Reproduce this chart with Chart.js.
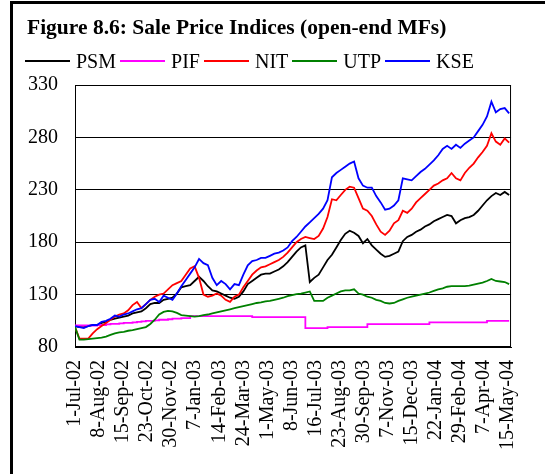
<!DOCTYPE html>
<html lang="en">
<head>
  <meta charset="UTF-8">
  <title>Sale Price Indices (open-end MFs)</title>
  <script src="https://cdn.jsdelivr.net/npm/chart.js"></script>
  <style>
    html, body {
      margin: 0;
      padding: 0;
      background: #fff;
      overflow: hidden;
    }
    body {
      width: 545px;
      height: 474px;
      position: relative;
      font-family: 'Liberation Serif', 'Times New Roman', serif;
      color: #000;
    }
    .frame {
      position: absolute;
      left: 10px;
      top: 1px;
      width: 600px;
      height: 600px;
      border: 3px solid #000;
    }
    h1 {
      position: absolute;
      left: 27px;
      top: 17px;
      margin: 0;
      font-size: 21.5px;
      line-height: 1;
      font-weight: bold;
      white-space: nowrap;
    }
    .legend {
      position: absolute;
      left: 25px;
      top: 51px;
      display: flex;
      align-items: center;
      font-size: 20px;
      line-height: 1;
      white-space: nowrap;
    }
    .legend .line {
      display: inline-block;
      width: 45px;
      height: 2px;
      margin-right: 6px;
    }
    .legend .txt {
      margin-right: 4px;
    }
    canvas {
      position: absolute;
      left: 0;
      top: 0;
    }
  </style>
</head>
<body>
  <div class="frame"></div>
  <canvas id="chart" width="545" height="474"></canvas>
  <h1>Figure 8.6: Sale Price Indices (open-end MFs)</h1>
  <div class="legend" id="legend"></div>
  <script>
    // x axis: days since 1-Jul-02, one value per week
    const STEP_DAYS = 7;
    const TICK_STEP = 38;
    const X_MAX = 689;
    const TICK_LABELS = ['1-Jul-02', '8-Aug-02', '15-Sep-02', '23-Oct-02', '30-Nov-02', '7-Jan-03',
      '14-Feb-03', '24-Mar-03', '1-May-03', '8-Jun-03', '16-Jul-03', '23-Aug-03', '30-Sep-03',
      '7-Nov-03', '15-Dec-03', '22-Jan-04', '29-Feb-04', '7-Apr-04', '15-May-04'];

    const psm = [100, 99, 99, 100, 101, 101, 103, 104, 106, 107, 108, 109, 110, 112, 113, 114, 117, 121, 122, 122,
      125, 126, 127, 131, 137, 138, 139, 143, 147, 143, 138, 134, 133, 131, 129, 127, 126, 128, 133, 140,
      143, 146, 149, 150, 150, 152, 154, 157, 161, 166, 171, 175, 177, 142, 146, 149, 156, 163, 168, 175,
      182, 188, 191, 189, 186, 179, 183, 177, 173, 169, 166, 167, 169, 171, 181, 185, 187, 190, 192, 195,
      197, 200, 202, 204, 206, 205, 198, 201, 203, 204, 206, 210, 215, 220, 224, 227, 225, 228, 225];

    const pif = [100.5, 100.5, 100.5, 100.5, 100.5, 100.5, 101, 101, 101.5, 102, 102, 102.5, 103, 103, 103.5, 104, 104.5, 105, 105, 105.5,
      106, 106, 106.5, 107, 107, 107.5, 107.5, 109.5, 109.5, 109.5, 109.5, 109.5, 109.5, 109.5, 109.5, 109.5, 109.5, 109.5, 109.5, 109.5,
      109.5, 108.5, 108.5, 108.5, 108.5, 108.5, 108.5, 108.5, 108.5, 108.5, 108.5, 108.5, 108.5, 98, 98, 98, 98, 98, 99, 99,
      99, 99, 99, 99, 99, 99, 99, 101.8, 101.8, 101.8, 101.8, 101.8, 101.8, 101.8, 101.8, 101.8, 101.8, 101.8, 101.8, 101.8,
      101.8, 103.5, 103.5, 103.5, 103.5, 103.5, 103.5, 103.5, 103.5, 103.5, 103.5, 103.5, 103.5, 103.5, 105, 105, 105, 105, 105];

    const nit = [99, 88, 88, 88, 93, 97, 100, 103, 106, 109, 111, 112, 115, 120, 123, 117, 121, 125, 128, 130,
      131, 135, 139, 141, 143, 149, 155, 157, 146, 130, 128, 129, 131, 129, 125, 123, 128, 130, 137, 143,
      149, 153, 156, 157, 159, 161, 163, 166, 170, 175, 180, 183, 185, 184, 183, 186, 193, 204, 221, 220,
      225, 230, 233, 232, 222, 212, 210, 205, 197, 190, 187, 191, 198, 201, 210, 208, 212, 218, 222, 226,
      230, 234, 236, 239, 241, 246, 241, 239, 246, 251, 255, 261, 266, 272, 284, 276, 273, 279, 275];

    const utp = [99, 87, 87, 87.5, 88, 88.5, 89, 90, 91.5, 93, 94, 94.5, 95.5, 96, 97, 98, 99, 102, 106, 111,
      113.5, 114.5, 114, 112.5, 110.5, 110, 109.5, 109, 109.5, 110.5, 111, 112, 113, 114, 115, 116, 117, 118, 119, 120,
      121, 122, 122.5, 123.5, 124, 125, 126, 127, 128.5, 129.5, 130.5, 131, 132, 133, 124, 124, 124, 127, 129, 131,
      133, 134, 134, 135, 131, 130, 128, 127, 125, 124, 122, 121.5, 122, 124, 125.5, 127, 128, 129, 130, 131,
      132, 133.5, 135, 136, 137.5, 138, 138, 138, 138, 138.5, 139.5, 140.5, 141.5, 143, 145, 143, 142.5, 142, 140];

    const kse = [100, 99, 98, 100, 101, 101, 104, 105, 107, 110, 109, 111, 112, 114, 116, 117, 121, 125, 126, 123,
      129, 127, 125, 131, 138, 144, 150, 156, 164, 160, 158, 146, 139, 143, 140, 135, 140, 139, 149, 158,
      162, 163, 165, 165, 167, 169, 170, 172, 175, 181, 185, 190, 195, 199, 203, 207, 212, 220, 242, 246,
      249, 252, 255, 257, 241, 234, 232, 232, 224, 218, 211, 212, 215, 220, 241, 240, 239, 243, 247, 250,
      254, 258, 263, 269, 272, 269, 273, 270, 274, 277, 280, 286, 292, 300, 314, 304, 307, 308, 303];

    const SERIES = [
      { name: 'PSM', values: psm, color: '#000000' },
      { name: 'PIF', values: pif, color: '#ff00ff', stepped: 'after' },
      { name: 'NIT', values: nit, color: '#ff0000' },
      { name: 'UTP', values: utp, color: '#008000' },
      { name: 'KSE', values: kse, color: '#0000ff' }
    ];

    // legend
    const legend = document.getElementById('legend');
    SERIES.forEach(s => {
      legend.insertAdjacentHTML('beforeend',
        `<span class="line" style="background:${s.color}"></span><span class="txt">${s.name}</span>`);
    });

    // box round the plot area
    const plotFrame = {
      id: 'plotFrame',
      beforeDatasetsDraw(chart) {
        const { ctx, chartArea: a } = chart;
        ctx.save();
        ctx.strokeStyle = '#000';
        ctx.lineWidth = 1;
        ctx.strokeRect(a.left + 0.5, a.top + 0.5, a.right - a.left - 1, a.bottom - a.top - 1);
        ctx.restore();
      }
    };

    const font = { family: "'Liberation Serif', 'Times New Roman', serif", size: 20 };

    new Chart(document.getElementById('chart'), {
      type: 'line',
      data: {
        datasets: SERIES.map((s, k) => ({
          label: s.name,
          data: s.values.map((v, i) => ({ x: i * STEP_DAYS, y: v })),
          borderColor: s.color,
          backgroundColor: s.color,
          borderWidth: 1.8,
          pointRadius: 0,
          tension: 0,
          stepped: s.stepped || false,
          order: SERIES.length - k
        }))
      },
      options: {
        responsive: false,
        animation: false,
        devicePixelRatio: 1,
        layout: { padding: { left: 15, top: 85, right: 18, bottom: 5 } },
        plugins: {
          legend: { display: false },
          tooltip: { enabled: false }
        },
        scales: {
          x: {
            type: 'linear',
            min: 0,
            max: X_MAX,
            afterBuildTicks: axis => {
              axis.ticks = TICK_LABELS.map((_, i) => ({ value: i * TICK_STEP }));
            },
            afterFit: axis => { axis.height = 122; },
            grid: { display: false, drawTicks: false },
            border: { color: '#000', width: 1 },
            ticks: {
              autoSkip: false,
              minRotation: 90,
              maxRotation: 90,
              padding: 13,
              color: '#000',
              font: font,
              callback: (value, index) => TICK_LABELS[index]
            }
          },
          y: {
            min: 80,
            max: 330,
            afterFit: axis => { axis.width = 60; },
            grid: { color: '#000', lineWidth: 1, drawTicks: false },
            border: { color: '#000', width: 1 },
            ticks: {
              stepSize: 50,
              padding: 17,
              color: '#000',
              font: font
            }
          }
        }
      },
      plugins: [plotFrame]
    });
  </script>
</body>
</html>
